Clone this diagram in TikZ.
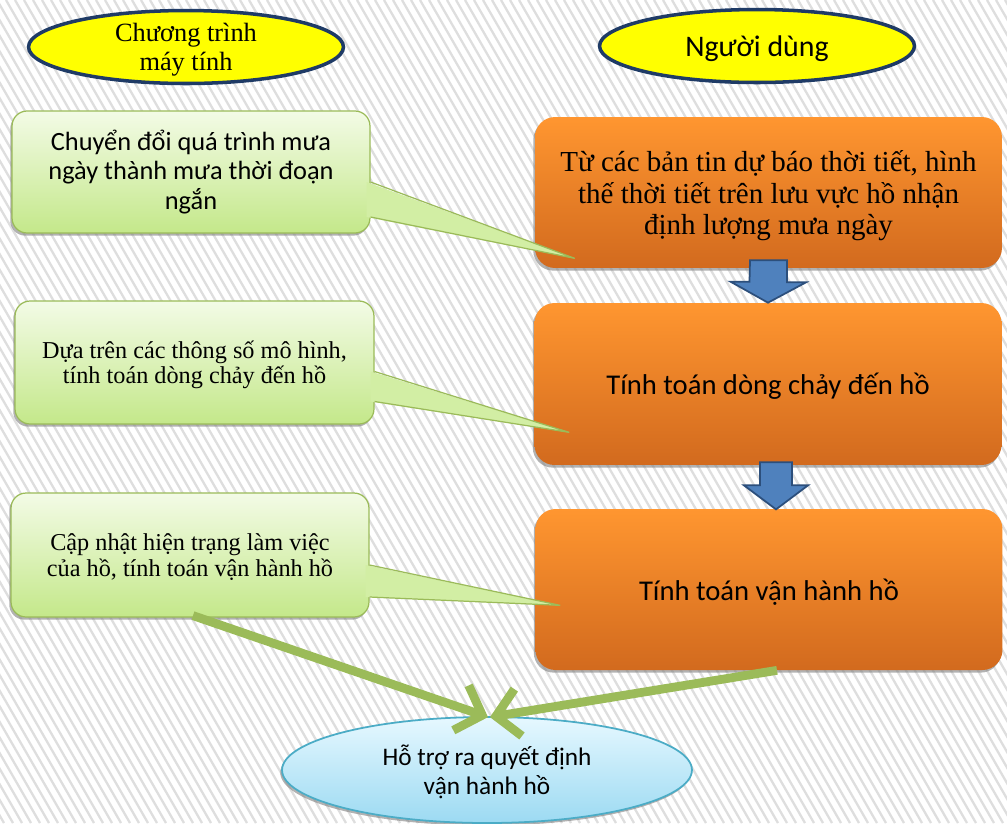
\documentclass[tikz,border=0pt]{standalone}
\usepackage{fontspec}
\setmainfont{Liberation Serif}
\newfontfamily\calibri{Carlito}
\usetikzlibrary{shapes.geometric,arrows.meta,calc,shadows}

\definecolor{stripegray}{HTML}{DEDEDE}
\definecolor{ovalyellow}{HTML}{FFFF00}
\definecolor{ovalnavy}{HTML}{1F3B66}
\definecolor{notetop}{HTML}{F3FBE6}
\definecolor{notebottom}{HTML}{C4E88A}
\definecolor{noteline}{HTML}{9BBB59}
\definecolor{notetail}{HTML}{D2EEA4}
\definecolor{steptop}{HTML}{FF9630}
\definecolor{stepbottom}{HTML}{D26A1E}
\definecolor{arrowblue}{HTML}{4F81BD}
\definecolor{arrowedge}{HTML}{2C4F7C}
\definecolor{linkgreen}{HTML}{9BBB59}
\definecolor{endtop}{HTML}{E6F8FF}
\definecolor{endbottom}{HTML}{9CDAF2}
\definecolor{endline}{HTML}{4BACC6}

\tikzset{
	stripe/.style={stripegray, line width=1.3pt},
	actor/.style={ellipse, draw=ovalnavy, line width=2pt, fill=ovalyellow, inner sep=0pt,
		minimum width=6.3cm, minimum height=1.46cm, align=center},
	note/.style={rectangle, rounded corners=0.3cm, draw=noteline, line width=0.7pt,
		top color=notetop, bottom color=notebottom, align=center, inner sep=0pt,
		minimum width=7.16cm, minimum height=2.44cm,
		drop shadow={shadow xshift=-1pt, shadow yshift=-1.5pt, opacity=0.6}},
	tail/.style={fill=notetail},
	tailedge/.style={draw=noteline, line width=0.7pt},
	stepbox/.style={rectangle, rounded corners=0.4cm, top color=steptop, bottom color=stepbottom,
		align=center, inner sep=0pt, minimum width=9.34cm,
		drop shadow={shadow xshift=-1pt, shadow yshift=-1.5pt, opacity=0.6}},
	oneline/.style={text height=16pt, text depth=4pt},
	blockarrow/.style={fill=arrowblue, draw=arrowedge, line width=1pt, line join=miter},
	link/.style={linkgreen, line width=5pt, -{Straight Barb[length=0.45cm, width=0.95cm]}},
	decision/.style={ellipse, draw=endline, line width=1pt, top color=endtop, bottom color=endbottom,
		inner sep=0pt, minimum width=8.2cm, minimum height=2.12cm, align=center,
		drop shadow={shadow xshift=-1pt, shadow yshift=-1.5pt, opacity=0.6}}
}

\begin{document}
\begin{tikzpicture}[x=0.02cm, y=-0.02cm]
	\useasboundingbox (0,0) rectangle (1007,823);
	\fill[white] (0,0) rectangle (1007,823);
	\begin{scope}
		\clip (0,0) rectangle (1007,823);
		\foreach \s in {-480,-471,...,1010}
			\draw[stripe] (\s,0) -- ++(475,823);
	\end{scope}

	\node[actor, text depth=-2.3pt, font=\fontsize{15}{16.5}\selectfont] (Program) at (186,47) {Chương trình\\máy tính};
	\node[actor, oneline, font=\calibri\fontsize{17}{18}\selectfont] (User) at (757,46) {Người dùng};

	\node[stepbox, minimum height=3.02cm, text depth=-7.8pt, font=\fontsize{16.5}{18.2}\selectfont] (Step1) at (768.5,192.5)
		{Từ các bản tin dự báo thời tiết, hình\\thế thời tiết trên lưu vực hồ nhận\\định lượng mưa ngày};
	\node[stepbox, minimum height=3.24cm, oneline, font=\calibri\fontsize{16.3}{18}\selectfont] (Step2) at (768,384)
		{Tính toán dòng chảy đến hồ};
	\node[stepbox, minimum height=3.22cm, oneline, font=\calibri\fontsize{16.3}{18}\selectfont] (Step3) at (769,589.5)
		{Tính toán vận hành hồ};

	\node[note, font=\calibri\fontsize{15}{17}\selectfont] (Note1) at (191,172)
		{Chuyển đổi quá trình mưa\\ngày thành mưa thời đoạn\\ngắn};
	\node[note, minimum width=7.18cm, minimum height=2.46cm, text depth=-1.6pt, font=\fontsize{13.8}{14.4}\selectfont] (Note2) at (194.5,362.5)
		{Dựa trên các thông số mô hình,\\tính toán dòng chảy đến hồ};
	\node[note, minimum height=2.48cm, text depth=-0.9pt, font=\fontsize{13.8}{14.4}\selectfont] (Note3) at (190,555)
		{Cập nhật hiện trạng làm việc\\của hồ, tính toán vận hành hồ};

	\node[decision, text depth=-0.5pt, font=\calibri\fontsize{14.4}{16.4}\selectfont] (Decision) at (487,770)
		{Hỗ trợ ra quyết định\\vận hành hồ};

	% speech tails
	\fill[tail] ($(Note1.east)+(-4,10)$) -- ($(Step1.south west)+(40,-10)$) -- ($(Note1.east)+(-4,45)$) -- cycle;
	\draw[tailedge] ($(Note1.east)+(0,10)$) -- ($(Step1.south west)+(40,-10)$) -- ($(Note1.east)+(0,45)$);
	\fill[tail] ($(Note2.east)+(-4,9)$) -- ($(Step2.south west)+(35,-33)$) -- ($(Note2.east)+(-4,39)$) -- cycle;
	\draw[tailedge] ($(Note2.east)+(0,9)$) -- ($(Step2.south west)+(35,-33)$) -- ($(Note2.east)+(0,39)$);
	\fill[tail] ($(Note3.east)+(-4,10)$) -- ($(Step3.south west)+(25,-65)$) -- ($(Note3.east)+(-4,42)$) -- cycle;
	\draw[tailedge] ($(Note3.east)+(0,10)$) -- ($(Step3.south west)+(25,-65)$) -- ($(Note3.east)+(0,42)$);

	\draw[blockarrow] ($(Step1.south)+(-18.5,-8)$) -- ++(37,0) -- ++(0,22) -- ++(19,0)
		-- (Step2.north) -- ++(-37.5,-21) -- ++(19,0) -- cycle;
	\draw[blockarrow] ($(Step2.south)+(-8,-3)$) -- ++(32,0) -- ++(0,23) -- ++(16,0)
		-- ++(-32,24) -- ++(-32,-24) -- ++(16,0) -- cycle;

	\draw[link] ($(Note3.south)+(3,-2)$) -- ($(Decision.north)+(1,1)$);
	\draw[link] ($(Step3.south)+(8,0)$) -- ($(Decision.north)+(3,1)$);
\end{tikzpicture}
\end{document}
